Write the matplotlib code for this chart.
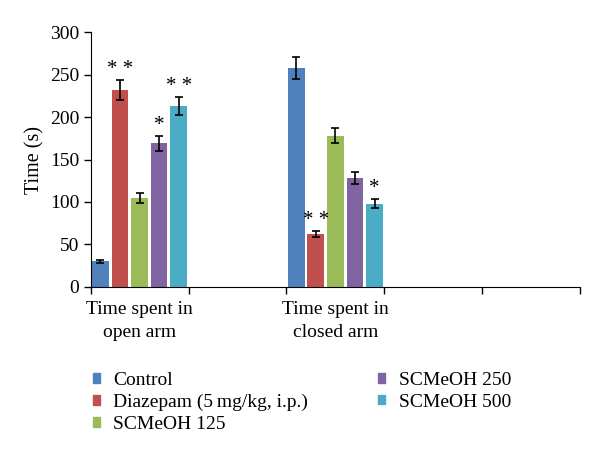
import numpy as np
import matplotlib.pyplot as plt
from matplotlib.patches import Patch

plt.rcParams['font.family'] = ['Liberation Serif', 'DejaVu Serif']

categories = ["Time spent in\nopen arm", "", "Time spent in\nclosed arm", "", ""]
series = ["Control", "Diazepam (5\u2009mg/kg, i.p.)", "SCMeOH 125", "SCMeOH 250", "SCMeOH 500"]
colors = ["#4F81BD", "#C0504D", "#9BBB59", "#8064A2", "#4BACC6"]

nan = np.nan
control = [30, nan, 258, nan, nan]
diazepam = [232, nan, 62, nan, nan]
scm125 = [105, nan, 178, nan, nan]
scm250 = [169, nan, 128, nan, nan]
scm500 = [213, nan, 98, nan, nan]

control_err = [2, nan, 13, nan, nan]
diazepam_err = [12, nan, 3.5, nan, nan]
scm125_err = [6, nan, 9, nan, nan]
scm250_err = [9, nan, 7, nan, nan]
scm500_err = [11, nan, 5.5, nan, nan]

control_sig = ["", "", "", "", ""]
diazepam_sig = ["* *", "", "* *", "", ""]
scm125_sig = ["", "", "", "", ""]
scm250_sig = ["*", "", "", "", ""]
scm500_sig = ["* *", "", "*", "", ""]

values = [control, diazepam, scm125, scm250, scm500]
errors = [control_err, diazepam_err, scm125_err, scm250_err, scm500_err]
sigs = [control_sig, diazepam_sig, scm125_sig, scm250_sig, scm500_sig]

fig = plt.figure(figsize=(6, 4.59), dpi=100)
ax = fig.add_axes([0.151, 0.375, 0.816, 0.555])

x = np.arange(len(categories)) + 0.5
slot = 0.2
for j in range(len(series)):
    pos = x + (j - 2) * slot
    ax.bar(pos, values[j], width=slot * 0.85, color=colors[j], label=series[j])
    ax.errorbar(pos, values[j], yerr=errors[j], fmt='none', ecolor='black',
                elinewidth=1.2, capsize=3, capthick=1.2)
    for i in range(len(categories)):
        if sigs[j][i]:
            ax.text(pos[i], values[j][i] + errors[j][i] + 1, sigs[j][i],
                    ha='center', va='bottom', fontsize=15)

ax.set_xlim(0, len(categories))
ax.set_ylim(0, 300)
ax.set_yticks(range(0, 301, 50))
ax.set_xticks(np.arange(len(categories) + 1))
ax.set_xticklabels([])
ax.set_xticks(x, minor=True)
ax.set_xticklabels(categories, minor=True, fontsize=14, linespacing=1.5)
ax.tick_params(axis='x', which='minor', length=0, pad=10)
ax.tick_params(axis='x', which='major', length=5, direction='out', width=1)
ax.tick_params(axis='y', length=5, direction='out', labelsize=14, width=1, pad=3)
ax.set_ylabel("Time (s)", fontsize=14.5)
ax.yaxis.set_label_coords(-0.095, 0.5)

for side in ['top', 'right']:
    ax.spines[side].set_visible(False)

handles = [Patch(color=c) for c in colors]
fig.legend(handles, series, ncol=2, loc='upper left', bbox_to_anchor=(0.125, 0.228),
           frameon=False, fontsize=14, handlelength=0.36, handleheight=0.36,
           handletextpad=0.7, columnspacing=3.6, labelspacing=0.25)

fig.savefig("out.png", dpi=100)
